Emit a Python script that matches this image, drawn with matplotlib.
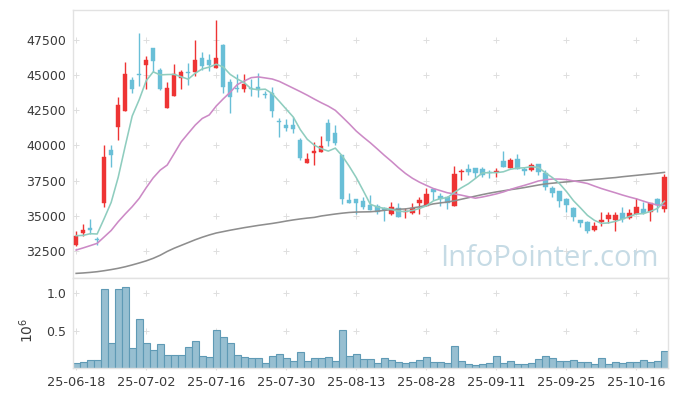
import matplotlib
matplotlib.use('Agg')
import matplotlib.pyplot as plt
import numpy as np

# ---------------- data ----------------
opens = [32900, 33800, 34130, 33320, 35885, 39670, 41330, 42465, 44640, 45060,
         45710, 46940, 45400, 42680, 43530, 44830, 45210, 45230, 46250, 46060,
         45540, 47130, 44520, 44120, 44000, 44100, 44170, 43650, 43700, 41750,
         41450, 41450, 40380, 38725, 39435, 39550, 41570, 40860, 39320, 36120,
         36170, 36070, 35770, 35700, 35580, 35100, 35580, 35245, 35175, 35930,
         35700, 36880, 36400, 36310, 35700, 38090, 38300, 38370, 38300, 38110,
         38090, 38910, 38410, 39010, 38300, 38250, 38650, 38060, 36950, 36760,
         36190, 35530, 34700, 34580, 33990, 34560, 34770, 34700, 35175, 34820,
         35130, 35460, 35245, 36190, 35460]
highs = [33920, 34390, 34750, 33520, 40027, 40027, 43460, 45900, 44880, 47960,
         46350, 46940, 45540, 44480, 45780, 45400, 45830, 47480, 46610, 46490,
         48900, 47180, 44760, 45070, 45050, 44760, 45160, 43900, 44170, 41920,
         41850, 42040, 40500, 39480, 40260, 40690, 41850, 41450, 39320, 36600,
         36170, 36310, 36480, 35840, 35650, 36000, 35930, 35530, 35930, 36360,
         36950, 36880, 36600, 36400, 38540, 38300, 38720, 38370, 38440, 38250,
         38370, 39620, 39080, 39390, 38490, 38770, 38650, 38250, 37120, 36760,
         36240, 35600, 34700, 34650, 34580, 35290, 35290, 35290, 35650, 35480,
         36240, 36000, 35930, 36240, 37970]
lows = [32850, 33565, 33710, 32925, 35650, 38440, 40380, 42465, 43740, 44220,
        44050, 45230, 43930, 42680, 43530, 43980, 44290, 44930, 45350, 45280,
        45540, 43740, 42280, 43810, 43810, 43500, 43460, 43400, 42040, 40620,
        41000, 40900, 38960, 38725, 38610, 39550, 39960, 40030, 35810, 35890,
        35130, 35460, 35410, 35130, 34650, 35060, 34940, 34820, 35130, 35130,
        35700, 36120, 35700, 35460, 35700, 37540, 37900, 37660, 37780, 37660,
        37780, 38440, 38410, 38300, 37900, 38180, 37900, 36830, 36360, 35650,
        35290, 34650, 34230, 33750, 33940, 34300, 34460, 33940, 34540, 34770,
        35130, 35130, 34630, 35290, 35290]
closes = [33565, 33990, 33990, 33290, 39200, 39317, 42867, 45070, 44000, 45020,
          46060, 46015, 44000, 44120, 45070, 45210, 45160, 46110, 45660, 45710,
          46250, 44170, 43460, 44050, 44400, 44030, 43930, 43600, 42465, 41680,
          41210, 41160, 39130, 39010, 39600, 39960, 40310, 40190, 36190, 35930,
          35930, 35650, 35410, 35245, 35410, 35600, 34940, 35360, 35580, 36120,
          36550, 36710, 36170, 35930, 37970, 38200, 38130, 38060, 37900, 38060,
          38200, 38440, 38960, 38300, 38180, 38610, 38130, 37070, 36600, 36070,
          35770, 34890, 34510, 33940, 34280, 34700, 35060, 35060, 34750, 35200,
          35600, 35175, 35885, 35770, 37730]
volumes = [67000, 80000, 107000, 107000, 1058000, 335000, 1058000, 1085000, 268000, 656000,
           335000, 241000, 321000, 174000, 174000, 174000, 281000, 362000, 161000, 147000,
           509000, 415000, 335000, 174000, 147000, 134000, 134000, 67000, 161000, 187000,
           134000, 94000, 214000, 94000, 134000, 134000, 150000, 98000, 509000, 161000,
           187000, 120000, 120000, 67000, 134000, 107000, 80000, 67000, 80000, 107000,
           147000, 80000, 80000, 67000, 295000, 94000, 54000, 40000, 54000, 67000,
           161000, 67000, 94000, 54000, 54000, 67000, 120000, 161000, 134000, 94000,
           94000, 107000, 80000, 80000, 54000, 134000, 54000, 80000, 67000, 80000,
           80000, 107000, 80000, 94000, 228000]
# moving-average values before enough candles are visible
ma5_head = [33590, 33610, 33730, 33710]
ma20_head = [32570, 32720, 32880, 33045, 33500, 33960, 34580, 35130, 35650, 36240,
             37000, 37700, 38250, 38610, 39430, 40260, 40860, 41450, 41920]
ma120 = [30910, 30940, 30980, 31030, 31100, 31180, 31270, 31380, 31510, 31650,
         31800, 31980, 32200, 32470, 32700, 32900, 33100, 33300, 33480, 33640,
         33780, 33880, 33980, 34070, 34160, 34240, 34320, 34390, 34460, 34540,
         34630, 34710, 34780, 34840, 34890, 34990, 35060, 35130, 35190, 35240,
         35270, 35280, 35290, 35330, 35390, 35440, 35470, 35490, 35560, 35640,
         35740, 35850, 35920, 35980, 36070, 36180, 36290, 36400, 36510, 36610,
         36700, 36780, 36860, 36930, 37010, 37100, 37190, 37270, 37320, 37370,
         37410, 37460, 37500, 37540, 37590, 37630, 37680, 37720, 37780, 37830,
         37880, 37930, 37980, 38030, 38090]
tick_idx = [0, 10, 20, 30, 40, 50, 60, 70, 80]
tick_labels = ['25-06-18', '25-07-02', '25-07-16', '25-07-30', '25-08-13',
               '25-08-28', '25-09-11', '25-09-25', '25-10-16']
price_ticks = [32500, 35000, 37500, 40000, 42500, 45000, 47500]
vol_ticks = [0.5, 1.0]

# ---------------- derived ----------------
o = np.array(opens, float); h = np.array(highs, float)
l = np.array(lows, float); c = np.array(closes, float)
v = np.array(volumes, float) / 1e6
n = len(c)
x = np.arange(n)

def rolling(vals, win, head):
    out = list(head)
    for i in range(len(head), len(vals)):
        out.append(np.mean(vals[i - win + 1:i + 1]))
    return np.array(out)

ma5 = rolling(c, 5, ma5_head)
ma20 = rolling(c, 20, ma20_head)

UP = '#ee3434'
DOWN = '#69bfd7'
FRAME = '#e2e2e2'
TXT = '#3a3a3a'

plt.rcParams['font.family'] = ['DejaVu Sans']
fig = plt.figure(figsize=(6.77, 3.96), dpi=100)
W, H = 677, 396
ax = fig.add_axes([73 / W, (H - 278) / H, 595 / W, 268 / H])
axv = fig.add_axes([73 / W, (H - 368) / H, 595 / W, 90 / H], sharex=ax)

# grid crosses
for a, yt in ((ax, price_ticks), (axv, vol_ticks)):
    xx, yy = np.meshgrid(tick_idx, yt)
    a.plot(xx.ravel(), yy.ravel(), ls='none', marker='+', ms=4, mew=0.7,
           color='#dedede', zorder=0)

# watermark
ax.text(0.985, 0.045, 'InfoPointer.com', transform=ax.transAxes, ha='right',
        va='baseline', fontsize=21, color='#c6dbe5', family='Open Sans', zorder=0.5)

# candles
up = c >= o
cols = np.where(up, UP, DOWN)
ax.vlines(x, l, h, colors=cols, lw=1.0, zorder=2)
body_lo = np.minimum(o, c)
body_h = np.maximum(np.abs(c - o), 45)
ax.bar(x, body_h, bottom=body_lo, width=0.62, color=cols, edgecolor=cols,
       lw=0.3, zorder=3)

# moving averages
ax.plot(x, ma120, color='#8e8e8e', lw=1.15, zorder=4)
ax.plot(x, ma20, color='#cc8ac6', lw=1.15, zorder=4)
ax.plot(x, ma5, color='#8fcdbf', lw=1.15, zorder=4)

# volume
axv.bar(x, v, width=1.0, color='#97bfd1', edgecolor='#5f9ab5', lw=0.8, zorder=2)

# axes styling
ax.set_xlim(-0.45, n - 0.5)
ax.set_ylim(30582, 49630)
axv.set_ylim(0, 1.2)
for a in (ax, axv):
    for s in a.spines.values():
        s.set_color(FRAME)
        s.set_linewidth(1.0)
    a.tick_params(axis='y', length=0, labelsize=9, labelcolor=TXT, pad=5)
ax.set_yticks(price_ticks)
ax.set_yticklabels([str(t) for t in price_ticks])
axv.set_yticks(vol_ticks)
axv.set_yticklabels(['0.5', '1.0'])
ax.tick_params(axis='x', which='both', bottom=False, labelbottom=False,
               top=False, length=0)
axv.set_xticks(tick_idx)
axv.set_xticklabels(tick_labels)
axv.tick_params(axis='x', length=3, direction='inout', color='#dddddd',
                labelsize=9.3, labelcolor=TXT, pad=4)
axv.set_ylabel(r'$10^{6}$', fontsize=10, color=TXT, labelpad=3)
axv.yaxis.set_label_coords(-0.062, 0.42)

fig.savefig('out.png', dpi=100, facecolor='white')
